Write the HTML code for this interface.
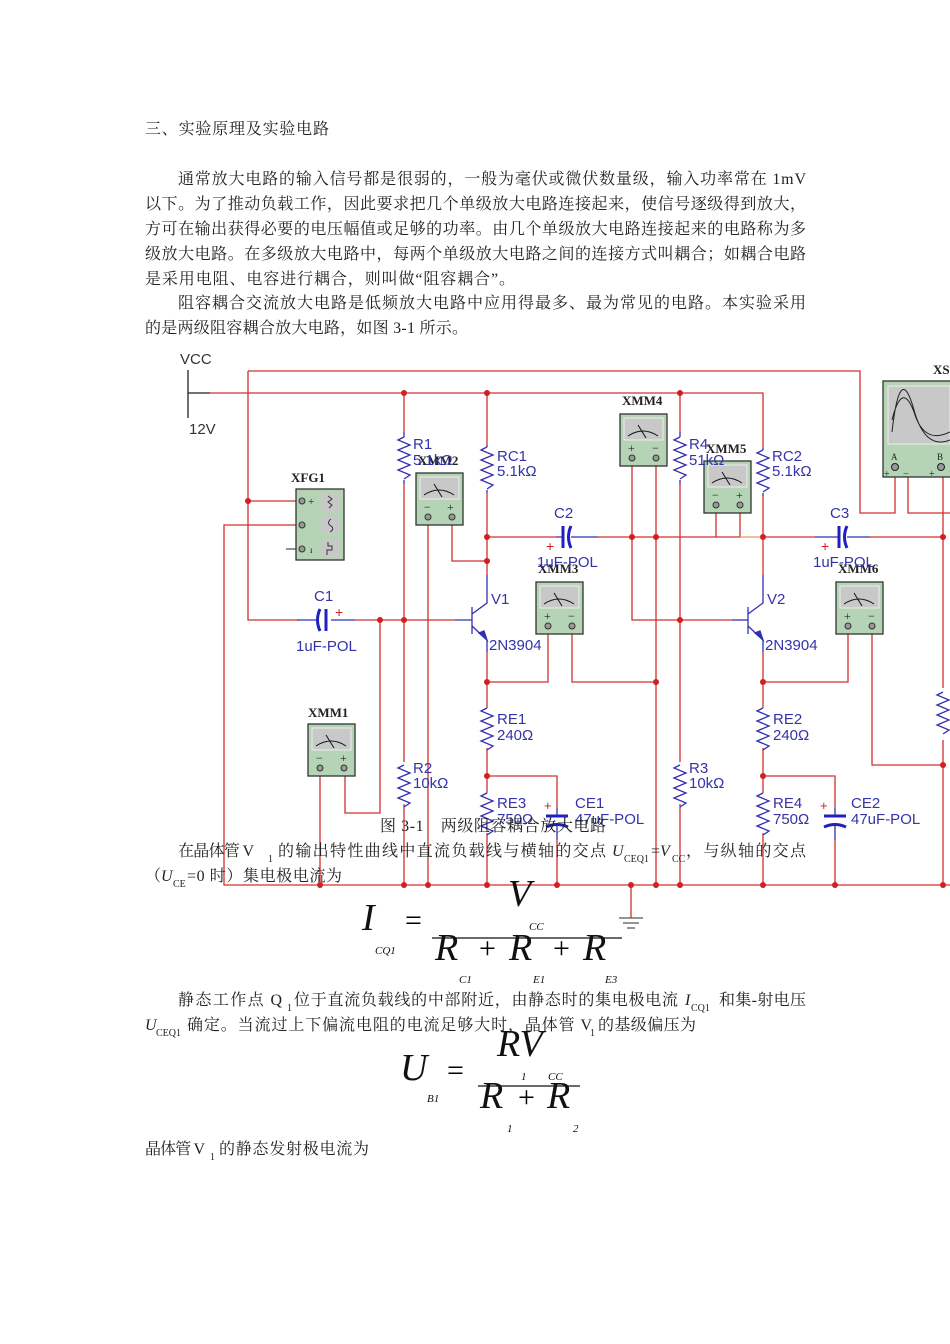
<!DOCTYPE html>
<html><head><meta charset="utf-8"><style>
html,body{margin:0;padding:0;background:#fff;}
svg{display:block;}
.t{font-family:"Liberation Serif","Noto Serif CJK SC",serif;font-size:16px;fill:#222;}
.s{font-family:"Liberation Serif",serif;font-size:10px;fill:#222;}
.lb{font-family:"Liberation Sans",sans-serif;font-size:15px;fill:#3333aa;}
.lbk{font-family:"Liberation Sans",sans-serif;font-size:15px;fill:#333;}
.mn{font-family:"Liberation Serif",serif;font-size:13px;font-weight:bold;fill:#222;}
.m{font-family:"Liberation Serif",serif;font-style:italic;fill:#111;}
.w{stroke:#d03030;stroke-width:1.3;fill:none;}
.b{stroke:#3030b0;stroke-width:1.3;fill:none;}
.d{fill:#d02020;}
</style></head><body>
<svg width="950" height="1344" viewBox="0 0 950 1344" xmlns="http://www.w3.org/2000/svg">
<defs>
<path id="res" d="M0,0 l-6,3 l12,5 l-12,5 l12,5 l-12,5 l12,5 l-12,5 l12,5 l-6,4" stroke="#3030b0" stroke-width="1.3" fill="none"/>
<g id="mtr">
<rect x="0" y="0" width="47" height="52" fill="#b5d3b5" stroke="#333" stroke-width="1.3"/>
<rect x="4" y="4" width="39" height="22" fill="#c8c8c8" stroke="#eee"/>
<path d="M8,22 Q23,12 38,22" stroke="#111" fill="none"/>
<path d="M18,11 L26,24" stroke="#111"/>
<circle cx="12" cy="44" r="3" fill="#999" stroke="#333"/>
<circle cx="36" cy="44" r="3" fill="#999" stroke="#333"/>
</g>
</defs>

<!-- text -->
<text class="t" x="145" y="134" textLength="184">三、实验原理及实验电路</text>
<text class="t" x="178" y="184" textLength="628">通常放大电路的输入信号都是很弱的，一般为毫伏或微伏数量级，输入功率常在 1mV</text>
<text class="t" x="145" y="209" textLength="661">以下。为了推动负载工作，因此要求把几个单级放大电路连接起来，使信号逐级得到放大，</text>
<text class="t" x="145" y="234" textLength="661">方可在输出获得必要的电压幅值或足够的功率。由几个单级放大电路连接起来的电路称为多</text>
<text class="t" x="145" y="259" textLength="661">级放大电路。在多级放大电路中，每两个单级放大电路之间的连接方式叫耦合；如耦合电路</text>
<text class="t" x="145" y="284" textLength="370">是采用电阻、电容进行耦合，则叫做“阻容耦合”。</text>
<text class="t" x="178" y="308" textLength="628">阻容耦合交流放大电路是低频放大电路中应用得最多、最为常见的电路。本实验采用</text>
<text class="t" x="145" y="333" textLength="323">的是两级阻容耦合放大电路，如图 3-1 所示。</text>

<!-- wires -->
<path class="w" d="M248,371 H860 V513 H895 V470"/>
<path class="w" d="M248,371 V620 H298"/>
<path class="w" d="M248,501 H298"/>
<path class="w" d="M298,525 H224 V885 H950"/>
<path d="M298,549 H286" stroke="#222"/>
<path d="M188,370 V418 M188,393 H210" stroke="#222" stroke-width="1.3"/>
<path class="w" d="M210,393 H763 V448"/>
<path class="w" d="M404,393 V432 M404,484 V762 M404,804 V885"/>
<path class="w" d="M487,393 V445 M487,493 V575"/>
<path class="w" d="M487,537 H556"/><path class="b" d="M556,537 H563 M571,537 H598"/><path class="w" d="M598,537 H740 V505"/>
<path class="w" d="M716,505 V537"/>
<path d="M740,537 H763" stroke="#e0a060" stroke-width="1.3"/>
<path class="w" d="M428,517 V885 M452,517 V561 H487"/>
<path class="w" d="M355,620 H455"/><path class="b" d="M297,620 H318 M331,620 H355 M455,620 H472"/>
<path class="w" d="M380,620 V813 H345 V768 M320,768 V885"/>
<path class="w" d="M487,652 V708 M487,748 V793 M487,833 V885"/>
<path class="w" d="M487,682 H548 V626 M572,626 V682 H656"/>
<path class="w" d="M487,776 H557 V808"/><path class="b" d="M557,808 V816 M557,826 V840"/><path class="w" d="M557,840 V885"/>
<path class="w" d="M632,458 V620 H732"/><path class="b" d="M732,620 H748"/>
<path class="w" d="M656,458 V885"/>
<path class="w" d="M680,393 V432 M680,484 V762 M680,804 V885"/>
<path class="w" d="M763,496 V575 M763,652 V708 M763,748 V793 M763,833 V885"/>
<path class="w" d="M763,537 H815"/><path class="b" d="M815,537 H838 M847,537 H870"/><path class="w" d="M870,537 H945"/>
<path class="w" d="M763,682 H848 V626 M872,626 V765 H945"/>
<path class="w" d="M763,776 H835 V808"/><path class="b" d="M835,808 V816 M835,826 V840"/><path class="w" d="M835,840 V885"/>
<path class="w" d="M908,470 V513 H950 M943,470 V688 M943,740 V885"/>
<path class="w" d="M631,885 V918"/>
<path d="M619,918 H643 M623,923 H639 M627,928 H635" stroke="#555" stroke-width="1.3"/>

<!-- resistors -->
<use href="#res" x="404" y="437"/><path class="b" d="M404,432 V437 M404,480 V484"/>
<use href="#res" x="487" y="447"/><path class="b" d="M487,445 V447 M487,490 V493"/>
<use href="#res" x="680" y="437"/><path class="b" d="M680,432 V437 M680,480 V484"/>
<use href="#res" x="763" y="450"/><path class="b" d="M763,448 V450 M763,493 V496"/>
<use href="#res" x="404" y="765"/>
<use href="#res" x="680" y="765"/>
<use href="#res" x="487" y="708"/>
<use href="#res" x="763" y="708"/>
<use href="#res" x="487" y="793"/>
<use href="#res" x="763" y="793"/>
<use href="#res" x="943" y="692"/>

<!-- capacitors -->
<path d="M326,609 V631" stroke="#2020c0" stroke-width="3"/><path d="M320,609 Q315,620 320,631" stroke="#2020c0" stroke-width="3" fill="none"/>
<path d="M563,526 V548" stroke="#2020c0" stroke-width="3"/><path d="M571,526 Q566,537 571,548" stroke="#2020c0" stroke-width="3" fill="none"/>
<path d="M839,526 V548" stroke="#2020c0" stroke-width="3"/><path d="M847,526 Q842,537 847,548" stroke="#2020c0" stroke-width="3" fill="none"/>
<path d="M546,816 H568" stroke="#2020c0" stroke-width="3"/><path d="M546,827 Q557,822 568,827" stroke="#2020c0" stroke-width="3" fill="none"/>
<path d="M824,816 H846" stroke="#2020c0" stroke-width="3"/><path d="M824,827 Q835,822 846,827" stroke="#2020c0" stroke-width="3" fill="none"/>
<text x="335" y="617" fill="#d02020" font-size="14" font-family="Liberation Sans">+</text>
<text x="546" y="551" fill="#d02020" font-size="14" font-family="Liberation Sans">+</text>
<text x="821" y="551" fill="#d02020" font-size="14" font-family="Liberation Sans">+</text>
<text x="544" y="810" fill="#d02020" font-size="13" font-family="Liberation Sans">+</text>
<text x="820" y="810" fill="#d02020" font-size="13" font-family="Liberation Sans">+</text>

<!-- transistors -->
<g class="b"><path d="M472,607 V634 M472,614 L487,603 V575 M472,626 L487,640 V652"/><path d="M479,633 l8,7 l-3,-9z" fill="#3030b0"/></g>
<g class="b"><path d="M748,607 V634 M748,614 L763,603 V575 M748,626 L763,640 V652"/><path d="M755,633 l8,7 l-3,-9z" fill="#3030b0"/></g>

<!-- dots -->
<g class="d">
<circle cx="404" cy="393" r="3"/><circle cx="487" cy="393" r="3"/><circle cx="680" cy="393" r="3"/>
<circle cx="248" cy="501" r="3"/><circle cx="487" cy="537" r="3"/><circle cx="487" cy="561" r="3"/>
<circle cx="632" cy="537" r="3"/><circle cx="656" cy="537" r="3"/><circle cx="763" cy="537" r="3"/><circle cx="943" cy="537" r="3"/>
<circle cx="380" cy="620" r="3"/><circle cx="404" cy="620" r="3"/><circle cx="680" cy="620" r="3"/>
<circle cx="487" cy="682" r="3"/><circle cx="656" cy="682" r="3"/><circle cx="763" cy="682" r="3"/>
<circle cx="487" cy="776" r="3"/><circle cx="763" cy="776" r="3"/><circle cx="943" cy="765" r="3"/>
<circle cx="320" cy="885" r="3"/><circle cx="404" cy="885" r="3"/><circle cx="428" cy="885" r="3"/><circle cx="487" cy="885" r="3"/><circle cx="557" cy="885" r="3"/><circle cx="631" cy="885" r="3"/><circle cx="656" cy="885" r="3"/><circle cx="680" cy="885" r="3"/><circle cx="763" cy="885" r="3"/><circle cx="835" cy="885" r="3"/><circle cx="943" cy="885" r="3"/>
</g>

<!-- XFG1 -->
<rect x="296" y="489" width="48" height="71" fill="#b5d3b5" stroke="#333" stroke-width="1.3"/>
<rect x="322" y="493" width="17" height="18" fill="#c8c8c8"/><rect x="322" y="516" width="17" height="18" fill="#c8c8c8"/><rect x="322" y="539" width="17" height="18" fill="#c8c8c8"/>
<path d="M328,496 l4,3 l-4,3 l4,3 l-3,3 M331,519 q-5,4 0,7 q4,3 -1,6 M327,555 v-5 h5 v-4 h-4 v-4" stroke="#333" fill="none"/>
<circle cx="302" cy="501" r="3" fill="#999" stroke="#333"/><circle cx="302" cy="525" r="3" fill="#999" stroke="#333"/><circle cx="302" cy="549" r="3" fill="#999" stroke="#333"/>
<text x="308" y="505" font-size="11" fill="#222">+</text><text x="310" y="553" font-size="9" fill="#222">ı</text>
<text class="mn" x="291" y="482">XFG1</text>

<!-- meters -->
<use href="#mtr" x="416" y="473"/><text class="mn" x="418" y="465">XMM2</text>
<text x="424" y="511" font-size="12" fill="#222">−</text><text x="447" y="511" font-size="12" fill="#222">+</text>
<use href="#mtr" x="308" y="724"/><text class="mn" x="308" y="717">XMM1</text>
<text x="316" y="762" font-size="12" fill="#222">−</text><text x="340" y="762" font-size="12" fill="#222">+</text>
<use href="#mtr" x="536" y="582"/><text class="mn" x="538" y="573">XMM3</text>
<text x="544" y="620" font-size="12" fill="#222">+</text><text x="568" y="620" font-size="12" fill="#222">−</text>
<use href="#mtr" x="620" y="414"/><text class="mn" x="622" y="405">XMM4</text>
<text x="628" y="452" font-size="12" fill="#222">+</text><text x="652" y="452" font-size="12" fill="#222">−</text>
<use href="#mtr" x="704" y="461"/><text class="mn" x="706" y="453">XMM5</text>
<text x="712" y="499" font-size="12" fill="#222">−</text><text x="736" y="499" font-size="12" fill="#222">+</text>
<use href="#mtr" x="836" y="582"/><text class="mn" x="838" y="573">XMM6</text>
<text x="844" y="620" font-size="12" fill="#222">+</text><text x="868" y="620" font-size="12" fill="#222">−</text>

<!-- scope -->
<rect x="883" y="381" width="70" height="96" fill="#b5d3b5" stroke="#333" stroke-width="1.3"/>
<rect x="888" y="386" width="62" height="58" fill="#c8c8c8" stroke="#eee"/>
<path d="M892,432 Q900,360 914,410 Q925,450 950,440 M892,420 Q902,380 914,412 Q924,445 950,432" stroke="#222" fill="none"/>
<circle cx="895" cy="467" r="3.5" fill="#999" stroke="#222"/><circle cx="941" cy="467" r="3.5" fill="#999" stroke="#222"/>
<text x="891" y="460" font-size="9" fill="#222">A</text><text x="937" y="460" font-size="9" fill="#222">B</text>
<text x="884" y="477" font-size="10" fill="#222">+</text><text x="903" y="477" font-size="10" fill="#222">−</text><text x="929" y="477" font-size="10" fill="#222">+</text>
<text class="mn" x="933" y="374">XS</text>

<!-- labels -->
<text class="lbk" x="180" y="364">VCC</text><text class="lbk" x="189" y="434" font-size="14">12V</text>
<text class="lb" x="413" y="449">R1</text><text class="lb" x="413" y="465" font-size="13">5.1kΩ</text>
<text class="lb" x="497" y="461">RC1</text><text class="lb" x="497" y="476" font-size="13">5.1kΩ</text>
<text class="lb" x="689" y="449">R4</text><text class="lb" x="689" y="465" font-size="13">51kΩ</text>
<text class="lb" x="772" y="461">RC2</text><text class="lb" x="772" y="476" font-size="13">5.1kΩ</text>
<text class="lb" x="314" y="601">C1</text><text class="lb" x="296" y="651" font-size="14">1uF-POL</text>
<text class="lb" x="554" y="518">C2</text><text class="lb" x="537" y="567" font-size="14">1uF-POL</text>
<text class="lb" x="830" y="518">C3</text><text class="lb" x="813" y="567" font-size="14">1uF-POL</text>
<text class="lb" x="491" y="604">V1</text><text class="lb" x="489" y="650" font-size="14">2N3904</text>
<text class="lb" x="767" y="604">V2</text><text class="lb" x="765" y="650" font-size="14">2N3904</text>
<text class="lb" x="497" y="724">RE1</text><text class="lb" x="497" y="740" font-size="13">240Ω</text>
<text class="lb" x="773" y="724">RE2</text><text class="lb" x="773" y="740" font-size="13">240Ω</text>
<text class="lb" x="413" y="773">R2</text><text class="lb" x="413" y="788" font-size="13">10kΩ</text>
<text class="lb" x="689" y="773">R3</text><text class="lb" x="689" y="788" font-size="13">10kΩ</text>
<text class="lb" x="497" y="808">RE3</text><text class="lb" x="497" y="824" font-size="13">750Ω</text>
<text class="lb" x="773" y="808">RE4</text><text class="lb" x="773" y="824" font-size="13">750Ω</text>
<text class="lb" x="575" y="808">CE1</text><text class="lb" x="575" y="824" font-size="14">47uF-POL</text>
<text class="lb" x="851" y="808">CE2</text><text class="lb" x="851" y="824" font-size="14">47uF-POL</text>

<text class="t" x="380" y="831" textLength="226">图 3-1　两级阻容耦合放大电路</text>
<text class="t" x="178" y="856" textLength="76">在晶体管 V</text><text class="s" x="268" y="862">1</text>
<text class="t" x="278" y="856" textLength="328">的输出特性曲线中直流负载线与横轴的交点</text>
<text class="t" x="612" y="856" font-style="italic">U</text><text class="s" x="624" y="862">CEQ1</text>
<text class="t" x="651" y="856">=<tspan font-style="italic">V</tspan></text><text class="s" x="672" y="862">CC</text>
<text class="t" x="686" y="856" textLength="120">，与纵轴的交点</text>
<text class="t" x="145" y="881">（<tspan font-style="italic">U</tspan></text><text class="s" x="173" y="887">CE</text>
<text class="t" x="187" y="881" textLength="155">=0 时）集电极电流为</text>

<!-- formula 1 -->
<text class="m" x="362" y="930" font-size="38">I</text>
<text x="405" y="930" font-size="30" font-family="Liberation Serif">=</text>
<text class="m" x="508" y="906" font-size="38">V</text>
<text class="m" x="529" y="930" font-size="11">CC</text>
<path d="M432,938 H622" stroke="#111" stroke-width="1.3"/>
<text class="m" x="435" y="960" font-size="38">R</text><text x="479" y="958" font-size="30" font-family="Liberation Serif">+</text>
<text class="m" x="509" y="960" font-size="38">R</text><text x="553" y="958" font-size="30" font-family="Liberation Serif">+</text>
<text class="m" x="583" y="960" font-size="38">R</text>
<text class="m" x="375" y="954" font-size="11">CQ1</text>
<text class="m" x="459" y="983" font-size="11">C1</text><text class="m" x="533" y="983" font-size="11">E1</text><text class="m" x="605" y="983" font-size="11">E3</text>

<text class="t" x="178" y="1005" textLength="104">静态工作点 Q</text><text class="s" x="287" y="1011">1</text>
<text class="t" x="294" y="1005" textLength="384">位于直流负载线的中部附近，由静态时的集电极电流</text>
<text class="t" x="685" y="1005" font-style="italic">I</text><text class="s" x="691" y="1011">CQ1</text>
<text class="t" x="719" y="1005" textLength="87">和集-射电压</text>
<text class="t" x="145" y="1030" font-style="italic">U</text><text class="s" x="156" y="1036">CEQ1</text>
<text class="t" x="187" y="1030" textLength="405">确定。当流过上下偏流电阻的电流足够大时，晶体管 V</text><text class="s" x="590" y="1036">1</text>
<text class="t" x="598" y="1030" textLength="98">的基级偏压为</text>

<!-- formula 2 -->
<text class="m" x="400" y="1080" font-size="38">U</text>
<text x="447" y="1080" font-size="30" font-family="Liberation Serif">=</text>
<text class="m" x="497" y="1056" font-size="38">RV</text>
<text class="m" x="521" y="1080" font-size="11">1</text><text class="m" x="548" y="1080" font-size="11">CC</text>
<path d="M478,1086 H580" stroke="#111" stroke-width="1.3"/>
<text class="m" x="480" y="1108" font-size="38">R</text><text x="518" y="1107" font-size="30" font-family="Liberation Serif">+</text>
<text class="m" x="547" y="1108" font-size="38">R</text>
<text class="m" x="427" y="1102" font-size="11">B1</text>
<text class="m" x="507" y="1132" font-size="11">1</text><text class="m" x="573" y="1132" font-size="11">2</text>

<text class="t" x="145" y="1154" textLength="60">晶体管 V</text><text class="s" x="210" y="1160">1</text>
<text class="t" x="219" y="1154" textLength="150">的静态发射极电流为</text>
</svg>
</body></html>
